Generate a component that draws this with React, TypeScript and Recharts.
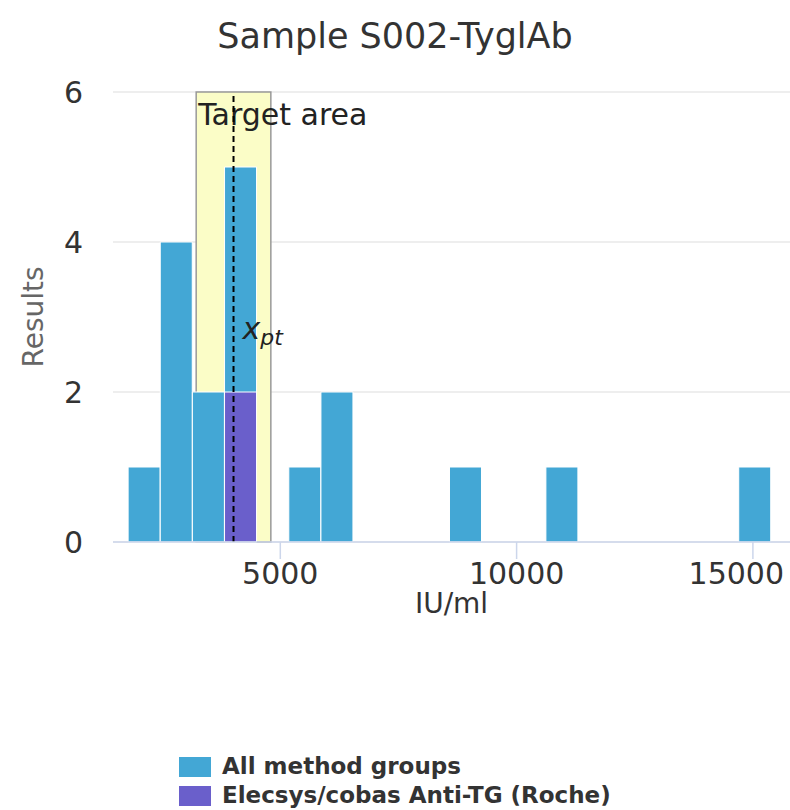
import React from 'react';
import {
  ComposedChart,
  Bar,
  XAxis,
  YAxis,
  CartesianGrid,
  ReferenceArea,
  ReferenceLine,
  Legend,
} from 'recharts';

// ---- data ----
const binCenters = [
  2120, 2800, 3480, 4160, 4840, 5520, 6200, 6880, 7560, 8240,
  8920, 9600, 10280, 10960, 11640, 12320, 13000, 13680, 14360, 15040,
];
const allCounts = [1, 4, 2, 5, 0, 1, 2, 0, 0, 0, 1, 0, 0, 1, 0, 0, 0, 0, 0, 1];
const groupCounts = [0, 0, 0, 2, 0, 0, 0, 0, 0, 0, 0, 0, 0, 0, 0, 0, 0, 0, 0, 0];
const xTicks = [5000, 10000, 15000];
const yTicks = [0, 2, 4, 6];
const xDomain = [1460, 15785];
const targetLow = 3220;
const targetHigh = 4800;
const xpt = 4010;
const seriesNames = ['All method groups', 'Elecsys/cobas Anti-TG (Roche)'];
const title = 'Sample S002-TyglAb';

const BLUE = '#43a7d5';
const PURPLE = '#6a5fcb';
const YELLOW = '#fbfdc7';
const FONT = '"DejaVu Sans", sans-serif';

const data = binCenters.map((c, i) => ({ x: c, all: allCounts[i], group: groupCounts[i] }));

const XTick = (props: any) => {
  const { x, y, payload } = props;
  const fs = 30;
  const label = String(payload.value);
  const w = label.length * 0.636 * fs;
  const cx = Math.min(x, 784 - w / 2);
  return (
    <text x={cx} y={y} dy="0.71em" textAnchor="middle" fontSize={fs} fill="#333" fontFamily={FONT}>
      {label}
    </text>
  );
};

const LegendContent = () => (
  <div style={{ height: 58 }}>
    {seriesNames.map((name, i) => (
      <div key={name} style={{ display: 'flex', alignItems: 'center', height: 29 }}>
        <span
          style={{
            display: 'inline-block',
            width: 32,
            height: 20,
            background: i === 0 ? BLUE : PURPLE,
            marginRight: 11,
          }}
        />
        <span style={{ fontFamily: FONT, fontWeight: 'bold', fontSize: 23, color: '#333', lineHeight: '29px' }}>
          {name}
        </span>
      </div>
    ))}
  </div>
);

export default function App() {
  return (
    <div style={{ position: 'absolute', left: 0, top: 0, width: 790, height: 810, background: '#fff' }}>
      <div
        style={{
          position: 'absolute',
          left: 0,
          top: 16,
          width: 790,
          textAlign: 'center',
          fontFamily: FONT,
          fontSize: 35,
          color: '#333',
          zIndex: 2,
        }}
      >
        {title}
      </div>
      <ComposedChart
        width={790}
        height={810}
        data={data}
        margin={{ top: 92, right: 0, bottom: 0, left: 0 }}
        barCategoryGap={0}
        barGap={0}
      >
        <CartesianGrid horizontal vertical={false} stroke="#dedede" strokeWidth={1.2} />
        <XAxis
          xAxisId="a"
          dataKey="x"
          type="number"
          domain={xDomain}
          allowDataOverflow
          ticks={xTicks}
          interval={0}
          height={210}
          tickSize={17}
          tickMargin={4}
          axisLine={{ stroke: '#ccd6eb', strokeWidth: 1.5 }}
          tickLine={{ stroke: '#ccd6eb', strokeWidth: 1.5 }}
          tick={<XTick />}
          label={{
            value: 'IU/ml',
            position: 'insideTop',
            offset: 51,
            fontSize: 28,
            fill: '#333',
            fontFamily: FONT,
          }}
        />
        <XAxis
          xAxisId="g"
          dataKey="x"
          type="number"
          domain={xDomain}
          allowDataOverflow
          hide
        />
        <YAxis
          xAxisId="a"
          type="number"
          domain={[0, 6]}
          ticks={yTicks}
          interval={0}
          width={113}
          axisLine={false}
          tickLine={false}
          tickSize={0}
          tickMargin={30}
          tick={{ fontSize: 30, fill: '#333', fontFamily: FONT }}
          label={{
            value: 'Results',
            angle: -90,
            position: 'insideLeft',
            offset: 33,
            fontSize: 28,
            fill: '#666',
            fontFamily: FONT,
            style: { textAnchor: 'middle' },
          }}
        />
        <ReferenceArea
          xAxisId="a"
          x1={targetLow}
          x2={targetHigh}
          y1={0}
          y2={6}
          fill={YELLOW}
          fillOpacity={1}
          stroke="#999"
          strokeWidth={1.5}
          ifOverflow="visible"
          label={(p: any) => {
            const vb = p.viewBox || {};
            return (
              <text x={(vb.x || 0) + 2} y={(vb.y || 0) + 33} fontSize={30} fill="#222" fontFamily={FONT}>
                Target area
              </text>
            );
          }}
        />
        <Bar
          xAxisId="a"
          dataKey="all"
          name={seriesNames[0]}
          fill={BLUE}
          stroke="#fff"
          strokeWidth={1}
          isAnimationActive={false}
        />
        <Bar
          xAxisId="g"
          dataKey="group"
          name={seriesNames[1]}
          fill={PURPLE}
          stroke="#fff"
          strokeWidth={1}
          isAnimationActive={false}
        />
        <ReferenceLine
          xAxisId="a"
          x={xpt}
          stroke="#000"
          strokeWidth={2}
          strokeDasharray="6 4"
          ifOverflow="visible"
          label={(p: any) => {
            const vb = p.viewBox || {};
            const lx = (vb.x || 0) + 9;
            const ly = (vb.y || 0) + (vb.height || 0) * 0.548;
            return (
              <text x={lx} y={ly} fontFamily={FONT} fill="#222" fontStyle="italic">
                <tspan fontSize={30}>x</tspan>
                <tspan fontSize={22} dy={6}>pt</tspan>
              </text>
            );
          }}
        />
        <Legend
          align="left"
          verticalAlign="bottom"
          height={58}
          content={<LegendContent />}
          wrapperStyle={{ left: 179, bottom: 0, width: 'auto' }}
        />
      </ComposedChart>
    </div>
  );
}
